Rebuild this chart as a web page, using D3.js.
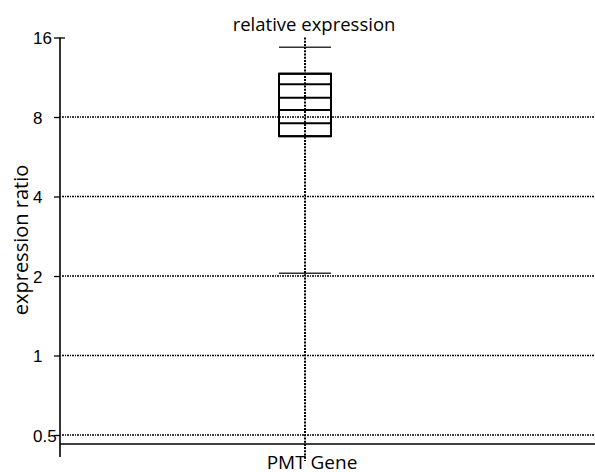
<!DOCTYPE html>
<html>
<head>
<meta charset="utf-8">
<script src="https://cdn.jsdelivr.net/npm/d3@7"></script>
<style>
  body { margin: 0; background: #fff; }
  svg { display: block; font-family: "Open Sans", "Liberation Sans", sans-serif; }
</style>
</head>
<body>
<svg id="chart"></svg>
<script>
const width = 595, height = 472;

// data
const categories = ['PMT Gene'];
const yTicks = [0.5, 1, 2, 4, 8, 16];
const boxLevels = [11.67, 10.64, 9.46, 8.5, 7.57, 6.77];   // box edges + inner lines
const whiskers = [2.05, 14.7];                              // low, high

const svg = d3.select('#chart').attr('width', width).attr('height', height);

const axisX = 60, axisBottom = 444;
const y = d3.scaleLog().base(2).domain([0.5, 16]).range([435, 37.5]);
const x = d3.scalePoint().domain(categories).range([305, 305]);
const boxW = 52;

// y axis
const yAxis = svg.append('g')
  .attr('transform', `translate(${axisX},0)`)
  .call(d3.axisLeft(y).tickValues(yTicks).tickFormat(d3.format('')).tickSize(6).tickSizeOuter(0));
yAxis.select('.domain').remove();
yAxis.selectAll('.tick line').attr('stroke', '#000').attr('stroke-width', 1.3);
yAxis.selectAll('.tick text')
  .attr('x', -27).attr('text-anchor', 'start').attr('dy', '0.36em')
  .attr('font-size', 17).attr('fill', '#000');
// the 16 tick crosses the axis
yAxis.selectAll('.tick').filter(d => d === 16).select('line').attr('x1', 5);

svg.append('line')
  .attr('x1', axisX).attr('x2', axisX).attr('y1', y(16)).attr('y2', 457)
  .attr('stroke', '#000').attr('stroke-width', 1.6);
svg.append('line')
  .attr('x1', axisX).attr('x2', width).attr('y1', axisBottom).attr('y2', axisBottom)
  .attr('stroke', '#000').attr('stroke-width', 1.6);

// box
const cx = x(categories[0]);
const boxTop = d3.max(boxLevels), boxBottom = d3.min(boxLevels);
svg.append('rect')
  .attr('x', cx - boxW / 2).attr('width', boxW)
  .attr('y', y(boxTop)).attr('height', y(boxBottom) - y(boxTop))
  .attr('fill', 'none').attr('stroke', '#000').attr('stroke-width', 2);
svg.selectAll('.box-line').data(boxLevels).enter().append('line')
  .attr('class', 'box-line')
  .attr('x1', cx - boxW / 2).attr('x2', cx + boxW / 2)
  .attr('y1', d => y(d)).attr('y2', d => y(d))
  .attr('stroke', '#000').attr('stroke-width', 2);

// whisker caps
svg.selectAll('.whisker').data(whiskers).enter().append('line')
  .attr('class', 'whisker')
  .attr('x1', cx - boxW / 2).attr('x2', cx + boxW / 2)
  .attr('y1', d => y(d)).attr('y2', d => y(d))
  .attr('stroke', '#333').attr('stroke-width', 1.5);

// grid
svg.selectAll('.grid').data(yTicks.filter(d => d < 16)).enter().append('line')
  .attr('class', 'grid')
  .attr('x1', axisX + 2).attr('x2', width)
  .attr('y1', d => y(d)).attr('y2', d => y(d))
  .attr('stroke', '#000').attr('stroke-width', 1.3)
  .attr('stroke-dasharray', '2,1,1,1');
svg.append('line')
  .attr('x1', cx).attr('x2', cx).attr('y1', y(16)).attr('y2', 461)
  .attr('stroke', '#000').attr('stroke-width', 2)
  .attr('stroke-dasharray', '2,1.2');

// labels
svg.append('text').attr('x', 314).attr('y', 31)
  .attr('text-anchor', 'middle').attr('font-size', 18.5).text('relative expression');
svg.append('text').attr('transform', 'translate(28,240) rotate(-90)')
  .attr('text-anchor', 'middle').attr('font-size', 20).text('expression ratio');
svg.append('text').attr('x', 312).attr('y', 469)
  .attr('text-anchor', 'middle').attr('font-size', 19).text('PMT Gene');
</script>
</body>
</html>
